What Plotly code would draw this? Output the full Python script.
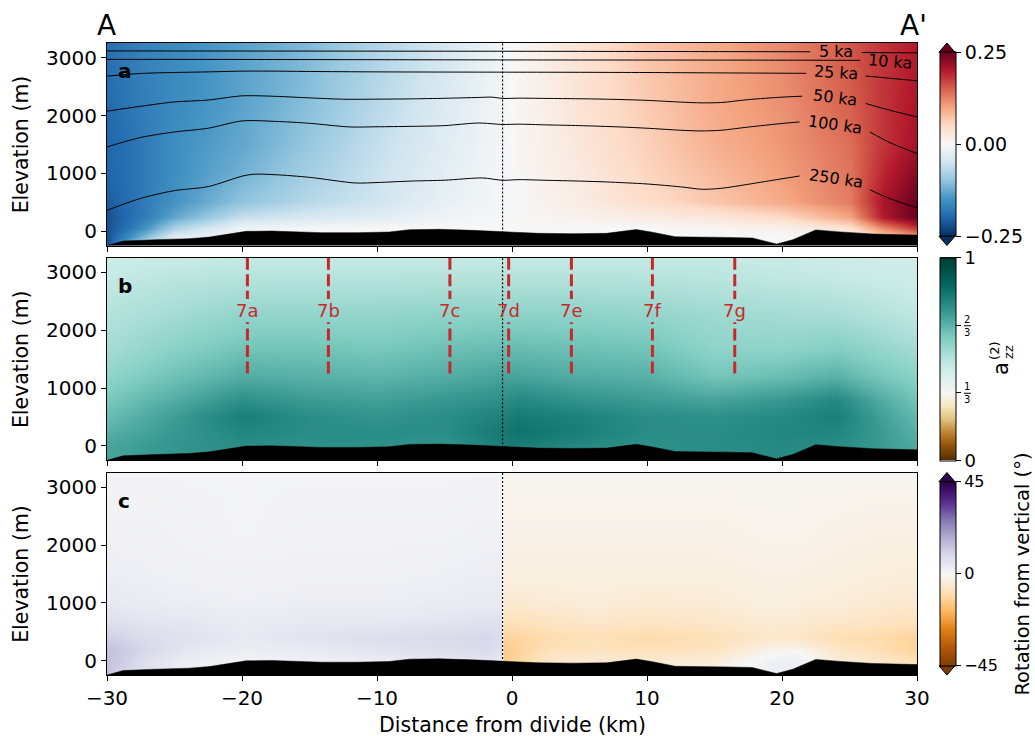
import plotly.graph_objects as go

# ---------------- data ----------------
BED_X = [-30, -28.8, -26.4, -23.9, -22.4, -20.9, -19.7, -17.8, -14.1, -11.5, -9.1, -7.6, -5.4, -2.9, -0.4,
         2.0, 4.5, 7.0, 9.2, 10.4, 12.1, 14.4, 15.9, 17.8, 19.6, 20.8, 22.5, 24.3, 26.7, 30]
BED_Y = [-250, -173, -150, -132, -104, -45, -5, 0, -28, -28, -17, 24, 30, 12, -17,
         -40, -45, -40, 25, -20, -100, -100, -110, -120, -225, -150, 20, -15, -50, -70]

# panel a field (horizontal grid X_A, vertical grid Y_A), values x0.01
X_A = [-30, -27.5, -25, -20, -15, -10, -5, 0, 5, 10, 15, 20, 25, 27.5, 30]
Y_A = [-250, -100, 50, 250, 500, 1000, 1500, 2200, 3000, 3260]
Z_A = [
    [-22, -5, -1, 0, 0, 0, 0, 0, 0, 0, 0, 0, 0, 2, 6],
    [-22, -12, -3, 0, 0, 0, 0, 0, 0, 0, 0, 0, 1, 5, 10],
    [-22, -16, -8, -1, -0.5, 0, 0, 0, 0, 0, 0.5, 1, 4, 12, 18],
    [-22, -18, -13, -6, -4, -3, -1, 0, 1, 2, 3, 5, 10, 20, 25],
    [-21, -18, -15, -10, -7, -5, -2, 0, 2, 4.5, 7, 9.5, 13, 20.5, 25],
    [-20, -18, -15.5, -12, -8.5, -5.5, -2.5, 0, 2.5, 5.5, 8, 10.5, 13.5, 19, 23],
    [-20, -18, -15.5, -13, -9.5, -6, -3, 0, 3, 6, 9, 11, 14, 18, 21],
    [-19.5, -17.5, -16, -13.5, -10.5, -7, -3.5, 0, 3.5, 6.5, 9.5, 11.5, 15, 18, 20.5],
    [-19, -17, -16, -13.5, -11, -7.5, -4.5, 0, 3.5, 7, 9.5, 12, 15.5, 18, 20],
    [-19, -17, -16, -13.5, -11, -7.5, -4.5, 0, 3.5, 7, 9.5, 12, 15.5, 18, 20],
]

# panel b field
X_B = [-30, -25, -20, -15, -10, -5, -1, 0.5, 5, 10, 15, 20, 24, 27, 30]
Y_B = [-250, 0, 250, 500, 800, 1200, 1700, 2300, 2900, 3260]
Z_B = [
    [0.70, 0.73, 0.75, 0.75, 0.75, 0.74, 0.78, 0.79, 0.76, 0.75, 0.76, 0.77, 0.76, 0.73, 0.69],
    [0.70, 0.74, 0.76, 0.75, 0.75, 0.74, 0.80, 0.80, 0.77, 0.75, 0.76, 0.77, 0.76, 0.73, 0.69],
    [0.67, 0.73, 0.78, 0.76, 0.76, 0.76, 0.81, 0.83, 0.80, 0.76, 0.76, 0.78, 0.78, 0.73, 0.67],
    [0.64, 0.72, 0.80, 0.76, 0.74, 0.76, 0.79, 0.81, 0.79, 0.76, 0.75, 0.77, 0.80, 0.72, 0.65],
    [0.61, 0.68, 0.75, 0.72, 0.71, 0.73, 0.75, 0.77, 0.74, 0.72, 0.70, 0.73, 0.77, 0.69, 0.62],
    [0.57, 0.63, 0.68, 0.67, 0.66, 0.68, 0.70, 0.70, 0.68, 0.67, 0.62, 0.64, 0.67, 0.62, 0.58],
    [0.53, 0.58, 0.62, 0.62, 0.61, 0.63, 0.64, 0.64, 0.63, 0.62, 0.57, 0.57, 0.59, 0.56, 0.53],
    [0.50, 0.53, 0.56, 0.56, 0.56, 0.57, 0.57, 0.57, 0.57, 0.56, 0.54, 0.53, 0.52, 0.50, 0.48],
    [0.47, 0.49, 0.50, 0.50, 0.50, 0.50, 0.50, 0.50, 0.50, 0.50, 0.49, 0.48, 0.47, 0.46, 0.45],
    [0.45, 0.46, 0.47, 0.47, 0.47, 0.47, 0.47, 0.47, 0.47, 0.47, 0.47, 0.46, 0.45, 0.44, 0.44],
]

# panel c field (degrees)
X_C = [-30, -27, -24, -20, -15, -10, -5, -2, -0.8, -0.6, 1, 3, 6, 10, 15, 19, 21, 24, 27, 30]
Y_C = [-250, 0, 200, 400, 700, 1000, 1500, 2200, 3260]
Z_C = [
    [13, 6, 2, 1, 1, 2, 3, 4, 3, -11, -8, -5, -4, -4, -3, 3, 3, -3, -5, -7],
    [14, 7, 3, 1.5, 2, 3, 4.5, 5.5, 4.5, -13, -10, -6, -5, -5, -4, 2, 3, -4, -6, -9],
    [14, 9, 5, 3, 4, 6, 7.5, 8.5, 7, -14, -11, -8.5, -7.5, -8.5, -7.5, -2, -1, -6.5, -9, -12],
    [11, 8, 6.5, 4.5, 6, 7.5, 8.5, 9.5, 8, -12, -11, -9.5, -8.5, -10, -8.5, -6, -6.5, -9, -10, -12],
    [7, 5.5, 5, 3.5, 4.5, 4.5, 5.5, 6.5, 6.5, -8, -8, -7, -6, -7, -6, -4.5, -5, -6, -7, -8],
    [4.5, 3.5, 3, 2.5, 3, 3, 3.5, 4, 4, -5, -5, -4.5, -4, -5, -4.5, -3, -3.5, -4, -5, -5.5],
    [3, 2.5, 2, 2, 2, 2, 2.5, 3, 3, -3, -3, -3, -3, -3, -3, -2.5, -2.5, -3, -3.5, -4],
    [2, 2, 1.5, 1, 1.5, 1.5, 1.5, 2, 2, -2, -2, -2, -2, -2, -2, -1.5, -1.5, -2, -2.5, -2.5],
    [1, 1, 1, 1, 1, 1, 1, 1, 1, -1, -1, -1, -1, -1, -1, -1, -1, -1, -1, -1],
]

# isochrones (panel a)
ISO_5_X = [-30, -20, -10, 0, 10, 20, 22.1, None, 25.9, 28, 30]
ISO_5_Y = [3118, 3116, 3114, 3112, 3108, 3104, 3103, None, 3090, 3087, 3085]
ISO_10_X = [-30, -20, -10, 0, 10, 20, 25.8]
ISO_10_Y = [2972, 2970, 2966, 2962, 2960, 2958, 2955]
ISO_25_X = [-30, -27.5, -25, -22.5, -20, -17.5, -15, -10, -5, 0, 5, 10, 15, 20, 21.8, None, 26.2, 28, 30]
ISO_25_Y = [2681, 2728, 2745, 2755, 2768, 2768, 2762, 2755, 2752, 2750, 2748, 2744, 2738, 2732, 2730, None, 2684, 2645, 2600]
ISO_50_X = [-30, -27.5, -25, -22.5, -20, -17.5, -15, -12.5, -10, -7.5, -5, -2.5, -1.5, -0.7, 0.5, 2.5, 5, 7.5,
            10, 12.5, 14, 15.5, 17.5, 20, 21.5, None, 26.2, 28, 30]
ISO_50_Y = [2075, 2160, 2235, 2268, 2340, 2332, 2305, 2282, 2283, 2288, 2298, 2312, 2318, 2296, 2300, 2296, 2290, 2280,
            2262, 2232, 2219, 2225, 2275, 2318, 2334, None, 2208, 2090, 1976]
ISO_100_X = [-30, -27.5, -25, -22.5, -20, -17.5, -15, -12, -10, -7.5, -5, -2.5, -0.7, 0.5, 2.5, 5, 8,
             10, 12.5, 14, 15.5, 17.5, 20, 21.3, None, 26.5, 28, 30]
ISO_100_Y = [1456, 1620, 1715, 1780, 1906, 1898, 1865, 1802, 1805, 1812, 1825, 1870, 1845, 1850, 1838, 1825, 1802,
             1780, 1745, 1733, 1745, 1800, 1862, 1889, None, 1716, 1530, 1341]
ISO_250_X = [-30, -27.5, -25, -22.5, -20, -19.2, -17.5, -15, -11.6, -10, -7.5, -5, -2.2, -0.7, 0.5, 2.5, 5, 7,
             10, 12.5, 14.1, 15.5, 17.5, 20, 21.3, None, 26.5, 28, 30]
ISO_250_Y = [359, 566, 700, 770, 950, 983, 975, 930, 832, 840, 865, 880, 919, 879, 890, 879, 865, 850,
             815, 765, 723, 740, 810, 905, 953, None, 717, 560, 405]
ISO_LABELS = ["5 ka", "10 ka", "25 ka", "50 ka", "100 ka", "250 ka"]
ISO_LBL_X = [24.0, 28.0, 24.0, 23.9, 23.9, 24.0]
ISO_LBL_Y = [3102, 2929, 2739, 2305, 1850, 908]
ISO_LBL_ANGLE = [0, 5, 4, 7, 8, 8.5]

# profile locations (panel b)
PROF_X = [-19.6, -13.6, -4.6, -0.25, 4.4, 10.4, 16.5]
PROF_LABELS = ["7a", "7b", "7c", "7d", "7e", "7f", "7g"]
PROF_Y_LOW = [1250, 2140]
PROF_Y_HIGH = [3255, 2540]
PROF_LBL_Y = 2340

DIVIDE_X = -0.7
YRANGE = [-250, 3255]
XRANGE = [-30, 30]

# ---------------- layout geometry ----------------
W, H = 1035, 736
ML, MR, MT, MB = 107, 117, 43, 61
PW = W - ML - MR
PH = H - MT - MB
PANEL_H = 202.5
GAP = 12.25
TOPS = [MT + i * (PANEL_H + GAP) for i in range(3)]


def px_x(px):
    return (px - ML) / PW


def px_y(py):
    return (H - MB - py) / PH


RDBU = ["#053061", "#2166ac", "#4393c3", "#92c5de", "#d1e5f0", "#f7f7f7",
        "#fddbc7", "#f4a582", "#d6604d", "#b2182b", "#67001f"]
BRBG = ["#543005", "#8c510a", "#bf812d", "#dfc27d", "#f6e8c3", "#f5f5f5",
        "#c7eae5", "#80cdc1", "#35978f", "#01665e", "#003c30"]
PUOR = ["#7f3b08", "#b35806", "#e08214", "#fdb863", "#fee0b6", "#f7f7f7",
        "#d8daeb", "#b2abd2", "#8073ac", "#542788", "#2d004b"]

cs_a = [[i / 10, c] for i, c in enumerate(RDBU)]
cs_c = [[i / 10, c] for i, c in enumerate(PUOR)]
cs_b = [[k / 15, BRBG[k]] for k in range(6)] + [[1 / 3 + k * 2 / 15, BRBG[5 + k]] for k in range(1, 6)]
cs_b[-1][0] = 1.0

FONT = "DejaVu Sans, Liberation Sans, sans-serif"
RED = "#c8282c"
TICK_SIZE = 20
TITLE_SIZE = 20.5

fig = go.Figure()
axn = [("x", "y"), ("x2", "y2"), ("x3", "y3")]


def cbar(center_py, length, tickvals, ticktext, size):
    return dict(x=px_x(940), xanchor="left", y=px_y(center_py), yanchor="middle",
                len=length, lenmode="pixels", thickness=16, thicknessmode="pixels",
                xpad=0, ypad=0, outlinewidth=1, outlinecolor="black",
                tickvals=tickvals, ticktext=ticktext, ticks="outside", ticklen=5,
                tickwidth=1, tickcolor="black", tickfont=dict(size=size, color="black", family=FONT))


centers = [t + PANEL_H / 2 for t in TOPS]
inner = PANEL_H / 1.1

fig.add_trace(go.Heatmap(x=X_A, y=Y_A, z=[[v * 0.01 for v in r] for r in Z_A], colorscale=cs_a,
                         zmin=-0.25, zmax=0.25, zsmooth="best", hoverinfo="skip",
                         colorbar=cbar(centers[0], inner, [-0.25, 0, 0.25], ["−0.25", "0.00", "0.25"], 19),
                         xaxis="x", yaxis="y"))
fig.add_trace(go.Heatmap(x=X_B, y=Y_B, z=Z_B, colorscale=cs_b, zmin=0, zmax=1, zsmooth="best",
                         hoverinfo="skip",
                         colorbar=cbar(centers[1], PANEL_H, [0, 1 / 3, 2 / 3, 1], ["0", "", "", "1"], 18),
                         xaxis="x2", yaxis="y2"))
fig.add_trace(go.Heatmap(x=X_C, y=Y_C, z=Z_C, colorscale=cs_c, zmin=-45, zmax=45, zsmooth="best",
                         hoverinfo="skip",
                         colorbar=cbar(centers[2], inner, [-45, 0, 45], ["−45", "0", "45"], 16),
                         xaxis="x3", yaxis="y3"))

# isochrones
for xs, ys in [(ISO_5_X, ISO_5_Y), (ISO_10_X, ISO_10_Y), (ISO_25_X, ISO_25_Y),
               (ISO_50_X, ISO_50_Y), (ISO_100_X, ISO_100_Y), (ISO_250_X, ISO_250_Y)]:
    fig.add_trace(go.Scatter(x=xs, y=ys, mode="lines", line=dict(color="black", width=1, shape="spline", smoothing=0.8),
                             connectgaps=False, hoverinfo="skip", showlegend=False, xaxis="x", yaxis="y"))

# profile dashed lines
for px_ in PROF_X:
    for seg in (PROF_Y_LOW, PROF_Y_HIGH):
        fig.add_trace(go.Scatter(x=[px_, px_], y=seg, mode="lines",
                                 line=dict(color=RED, width=3, dash="12px,4.5px"),
                                 hoverinfo="skip", showlegend=False, xaxis="x2", yaxis="y2"))

# divide dotted line + bed
for xa, ya in axn:
    fig.add_trace(go.Scatter(x=[DIVIDE_X, DIVIDE_X], y=[-250, 3255], mode="lines",
                             line=dict(color="black", width=1.2, dash="2px,2px"),
                             hoverinfo="skip", showlegend=False, xaxis=xa, yaxis=ya))
    fig.add_trace(go.Scatter(x=BED_X + [30, -30], y=BED_Y + [-400, -400], mode="lines", fill="toself",
                             fillcolor="black", line=dict(color="black", width=0.5),
                             hoverinfo="skip", showlegend=False, xaxis=xa, yaxis=ya))

axis_common = dict(showline=True, linecolor="black", linewidth=1, mirror=True, ticks="outside",
                   ticklen=5, tickwidth=1, tickcolor="black", showgrid=False, zeroline=False,
                   tickfont=dict(size=TICK_SIZE, color="black", family=FONT))

layout = dict(width=W, height=H, margin=dict(l=ML, r=MR, t=MT, b=MB, pad=0),
              paper_bgcolor="white", plot_bgcolor="white", showlegend=False,
              font=dict(family=FONT, color="black"))
for i, (xa, ya) in enumerate(axn):
    suffix = "" if i == 0 else str(i + 1)
    top = TOPS[i]
    dom = [px_y(top + PANEL_H), px_y(top)]
    layout["xaxis" + suffix] = dict(axis_common, domain=[0, 1], anchor=ya, range=XRANGE,
                                    tickvals=[-30, -20, -10, 0, 10, 20, 30],
                                    ticktext=["−30", "−20", "−10", "0", "10", "20", "30"],
                                    showticklabels=(i == 2))
    layout["yaxis" + suffix] = dict(axis_common, domain=dom, anchor=xa, range=YRANGE,
                                    tickvals=[0, 1000, 2000, 3000])
fig.update_layout(**layout)

ann = []
# isochrone labels
for t, lx, ly, ang in zip(ISO_LABELS, ISO_LBL_X, ISO_LBL_Y, ISO_LBL_ANGLE):
    ann.append(dict(x=lx, y=ly, xref="x", yref="y", text=t, showarrow=False, textangle=ang,
                    font=dict(size=16, color="black", family=FONT), xanchor="center", yanchor="middle"))
# profile labels
for lx, t in zip(PROF_X, PROF_LABELS):
    ann.append(dict(x=lx, y=PROF_LBL_Y, xref="x2", yref="y2", text=t, showarrow=False,
                    font=dict(size=18, color=RED, family=FONT), xanchor="center", yanchor="middle"))
# panel letters & y titles
for i, letter in enumerate(["a", "b", "c"]):
    ann.append(dict(x=px_x(116), y=px_y(TOPS[i] + 28), xref="paper", yref="paper", text="<b>%s</b>" % letter,
                    showarrow=False, font=dict(size=20, color="black", family=FONT),
                    xanchor="left", yanchor="middle"))
    ann.append(dict(x=px_x(21), y=px_y(centers[i]), xref="paper", yref="paper", text="Elevation (m)",
                    textangle=-90, showarrow=False, font=dict(size=TITLE_SIZE, color="black", family=FONT),
                    xanchor="center", yanchor="middle"))
ann.append(dict(x=0.5, y=px_y(725), xref="paper", yref="paper", text="Distance from divide (km)",
                showarrow=False, font=dict(size=TITLE_SIZE, color="black", family=FONT), xanchor="center", yanchor="middle"))
ann.append(dict(x=px_x(106), y=px_y(25), xref="paper", yref="paper", text="A", showarrow=False,
                font=dict(size=28, color="black", family=FONT), xanchor="center", yanchor="middle"))
ann.append(dict(x=px_x(914), y=px_y(25), xref="paper", yref="paper", text="A'", showarrow=False,
                font=dict(size=28, color="black", family=FONT), xanchor="center", yanchor="middle"))
# colorbar labels
ann.append(dict(x=px_x(1024), y=px_y(centers[2]), xref="paper", yref="paper", text="Rotation from vertical (°)",
                textangle=-90, showarrow=False, font=dict(size=TITLE_SIZE - 1, color="black", family=FONT),
                xanchor="center", yanchor="middle"))
ann.append(dict(x=px_x(1002), y=px_y(368), xref="paper", yref="paper", text="a", textangle=-90,
                showarrow=False, font=dict(size=21, color="black", family=FONT), xanchor="center", yanchor="middle"))
ann.append(dict(x=px_x(995), y=px_y(351), xref="paper", yref="paper", text="(2)", textangle=-90,
                showarrow=False, font=dict(size=13, color="black", family=FONT), xanchor="center", yanchor="middle"))
ann.append(dict(x=px_x(1009), y=px_y(352), xref="paper", yref="paper", text="zz", textangle=-90,
                showarrow=False, font=dict(size=13, color="black", family=FONT), xanchor="center", yanchor="middle"))
# fractions on colorbar b
b_bot = TOPS[1] + PANEL_H
shapes = []
for frac, num in [(1 / 3, "1"), (2 / 3, "2")]:
    ty = b_bot - frac * PANEL_H
    ann.append(dict(x=px_x(968.5), y=px_y(ty - 6), xref="paper", yref="paper", text=num, showarrow=False,
                    font=dict(size=10, color="black", family=FONT), xanchor="center", yanchor="middle"))
    ann.append(dict(x=px_x(968.5), y=px_y(ty + 7), xref="paper", yref="paper", text="3", showarrow=False,
                    font=dict(size=10, color="black", family=FONT), xanchor="center", yanchor="middle"))
    shapes.append(dict(type="line", xref="paper", yref="paper", x0=px_x(965), x1=px_x(972),
                       y0=px_y(ty + 0.5), y1=px_y(ty + 0.5), line=dict(color="black", width=1)))


# colorbar extension triangles
def tri(base_py, tip_py, color):
    x0, x1, xm = px_x(940), px_x(956), px_x(948)
    return dict(type="path", xref="paper", yref="paper",
                path="M %f,%f L %f,%f L %f,%f Z" % (x0, px_y(base_py), x1, px_y(base_py), xm, px_y(tip_py)),
                fillcolor=color, line=dict(color="black", width=1), layer="above")


for i, (ctop, cbot) in [(0, (RDBU[-1], RDBU[0])), (2, (PUOR[-1], PUOR[0]))]:
    t = TOPS[i]
    c = centers[i]
    shapes.append(tri(c - inner / 2, t, ctop))
    shapes.append(tri(c + inner / 2, t + PANEL_H, cbot))

fig.update_layout(annotations=ann, shapes=shapes)
fig.write_html("out.html")
